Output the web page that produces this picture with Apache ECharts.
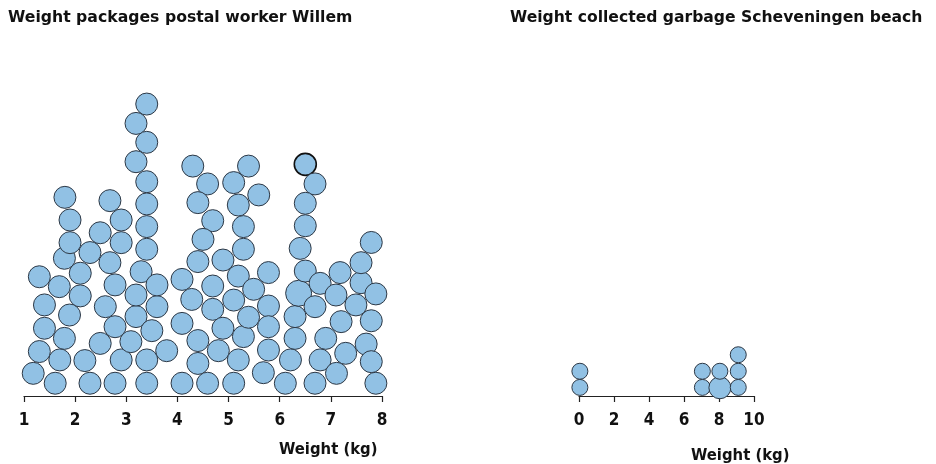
<!DOCTYPE html>
<html>
<head>
<meta charset="utf-8">
<script src="https://cdn.jsdelivr.net/npm/echarts@6/dist/echarts.min.js"></script>
<style>html,body{margin:0;padding:0;background:#fff;}#c{width:936px;height:464px;}</style>
</head>
<body>
<div id="c"></div>
<script>
// Left chart: weight (kg) of each package and its stacking level (in circle diameters)
var packageWeights = [1.18,1.61,1.30,1.70,1.40,1.79,1.40,1.89,1.30,1.69,2.10,2.10,1.79,1.90,1.90,1.80,
  2.29,2.49,2.68,2.90,2.90,2.68,2.78,2.59,2.78,2.49,2.19,2.29,2.78,2.90,3.09,3.19,3.19,3.29,
  3.40,3.40,3.50,3.60,3.60,3.79,3.40,3.19,3.40,3.19,3.40,3.40,3.40,3.40,
  4.09,4.28,4.09,4.40,4.40,4.09,4.59,4.30,4.59,4.40,4.69,4.50,4.40,4.89,4.69,4.69,4.89,4.80,
  5.10,5.19,5.29,5.10,5.19,5.39,5.49,5.78,5.78,5.78,5.78,5.68,6.11,6.21,6.30,6.30,6.37,
  5.10,5.39,5.19,5.29,5.29,5.59,6.50,6.69,6.50,6.50,6.40,6.50,6.79,6.69,6.90,6.79,6.69,
  7.11,7.29,7.20,7.10,7.18,7.49,7.59,7.59,7.79,7.88,7.79,7.69,7.79,7.88];
var packageStack = [1.03,0.58,2.02,1.64,3.08,2.62,4.14,3.68,5.42,4.97,4.55,5.58,6.26,6.97,8.00,9.03,
  6.52,7.42,8.88,8.00,6.97,6.06,5.05,4.06,3.15,2.39,1.61,0.58,0.58,1.64,2.47,3.61,4.59,5.65,
  0.58,1.64,2.97,4.06,5.05,2.06,13.27,12.39,11.53,10.65,9.74,8.73,7.70,6.67,
  5.30,4.39,3.30,2.52,1.48,0.58,0.58,10.45,9.64,8.79,7.97,7.12,6.11,6.18,5.00,3.94,3.08,2.06,
  0.58,1.64,2.70,4.36,5.45,3.58,4.85,5.61,4.09,3.15,2.09,1.06,0.58,1.64,2.62,3.61,4.67,
  9.70,10.45,8.68,7.70,6.67,9.14,10.53,9.64,8.76,7.74,6.71,5.68,5.12,4.06,2.62,1.64,0.58,
  1.03,1.94,3.38,4.59,5.61,4.14,5.15,6.06,6.98,4.64,3.42,2.36,1.56,0.58];
// Right chart: weight (kg) of each collected garbage item and its stacking level
var garbageWeights = [0.05,0.05,7.05,7.05,8.05,8.05,9.1,9.1,9.1];
var garbageStack   = [0.52,1.5,0.52,1.5,0.5,1.5,0.52,1.5,2.5];

var leftTicks = [1,2,3,4,5,6,7,8];
var rightTicks = [0,2,4,6,8,10];

var FONT_C = '"DejaVu Sans Condensed", "DejaVu Sans", sans-serif';
var FONT_R = '"DejaVu Sans", sans-serif';
var FILL = '#91c1e4';
var EDGE = '#2d3845';

function pts(xs, ys){ return xs.map(function(x,i){ return [x, ys[i]]; }); }

var chart = echarts.init(document.getElementById('c'), null, {renderer:'canvas'});
function axisX(idx, min, max, interval){
  return {
    gridIndex: idx, type:'value', min:min, max:max, interval:interval,
    axisLine:{show:true, lineStyle:{color:'#222', width:1.2}},
    axisTick:{show:true, inside:false, length:6, lineStyle:{color:'#222', width:1.2}},
    splitLine:{show:false},
    axisLabel:{color:'#111', fontFamily:FONT_C, fontWeight:'bold', fontSize:17, margin:16}
  };
}
function axisY(idx, max){
  return {gridIndex:idx, type:'value', min:0, max:max, show:false, splitLine:{show:false}};
}
chart.setOption({
  animation:false,
  backgroundColor:'#fff',
  title:[
    {text:'Weight packages postal worker Willem', left:3, top:5,
     textStyle:{fontFamily:FONT_R, fontWeight:'bold', fontSize:15.7, color:'#111'}},
    {text:'Weight collected garbage Scheveningen beach', left:505, top:5,
     textStyle:{fontFamily:FONT_R, fontWeight:'bold', fontSize:15.6, color:'#111'}}
  ],
  grid:[
    {left:24, right:554, top:88, bottom:68},
    {left:579, right:182, top:88, bottom:68}
  ],
  xAxis:[axisX(0,1,8,1), axisX(1,0,10,2)],
  yAxis:[axisY(0,14), axisY(1,308/16.5)],
  graphic:[
    {type:'text', left:279, top:441, style:{text:'Weight (kg)', font:'bold 16.5px ' + FONT_C, fill:'#111'}},
    {type:'text', left:691, top:447, style:{text:'Weight (kg)', font:'bold 16.5px ' + FONT_C, fill:'#111'}}
  ],
  series:[
    {type:'scatter', xAxisIndex:0, yAxisIndex:0, symbol:'circle',
     symbolSize:function(v,p){ return p.dataIndex===82 ? 26 : 22; },
     itemStyle:{color:FILL, borderColor:EDGE, borderWidth:1, opacity:1},
     data: pts(packageWeights, packageStack).map(function(d,i){
       return i===89 ? {value:d, itemStyle:{borderColor:'#111', borderWidth:1.6}} : d; })},
    {type:'scatter', xAxisIndex:1, yAxisIndex:1, symbol:'circle',
     symbolSize:function(v,p){ return p.dataIndex===4 ? 22 : 16; },
     itemStyle:{color:FILL, borderColor:EDGE, borderWidth:1, opacity:1},
     data: pts(garbageWeights, garbageStack)}
  ]
});
</script>
</body>
</html>
